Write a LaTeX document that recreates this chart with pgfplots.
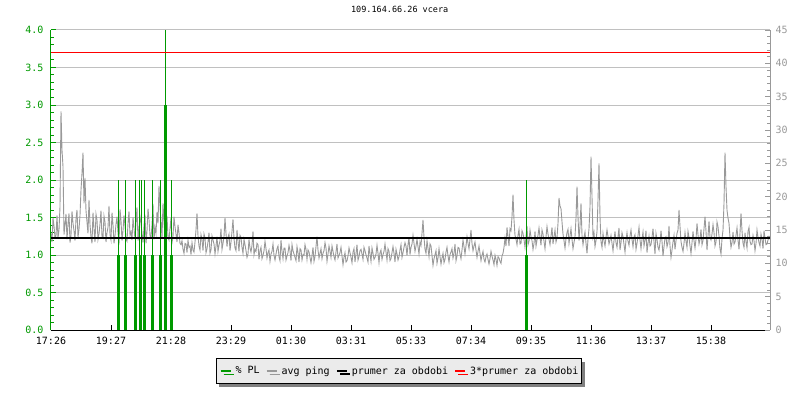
\documentclass[border=0pt]{standalone}
\usepackage{fontspec}
\setmainfont{DejaVu Sans Mono}
\usepackage{pgfplots}
\pgfplotsset{compat=1.18}
\usetikzlibrary{shadows}

\definecolor{plgreen}{RGB}{0,153,0}
\definecolor{pinggrey}{RGB}{153,153,153}
\definecolor{gridgrey}{RGB}{192,192,192}
\definecolor{leggrey}{RGB}{235,235,235}

\pgfplotsset{
  base/.style={
    at={(51pt,70pt)}, anchor=south west,
    width=719pt, height=300pt, scale only axis,
    xmin=0, xmax=719,
    /pgf/number format/assume math mode=true,
    tick align=inside,
    major tick length=5pt, minor tick length=3pt,
    ticklabel style={font=\fontsize{10}{12}\selectfont},
  },
}

\begin{document}
\begin{tikzpicture}
\useasboundingbox (0,0) rectangle (800pt,400pt);

% left axis: packet loss, grid, time axis
\begin{axis}[base,
  ymin=0, ymax=4,
  axis x line*=bottom, axis y line*=left,
  axis line style={-},
  x axis line style={black, line width=1pt},
  y axis line style={plgreen, line width=1pt},
  ytick={0,0.5,...,4}, minor y tick num=4,
  ymajorgrids, grid style={gridgrey, line width=1pt},
  y tick style={plgreen, line width=1pt},
  x tick style={black, line width=1pt},
  yticklabel style={plgreen, xshift=-4pt, /pgf/number format/.cd, fixed, fixed zerofill, precision=1},
  xticklabel style={yshift=-4pt},
  xtick={0,60,120,180,240,300,360,420,480,540,600,660},
  xticklabels={17:26,19:27,21:28,23:29,01:30,03:31,05:33,07:34,09:35,11:36,13:37,15:38},
  title={109.164.66.26 vcera},
  title style={font=\fontsize{8.5}{10}\selectfont, at={(0.485,1)}, anchor=south, yshift=8pt},
]
\end{axis}

% right axis: avg ping (ms)
\begin{axis}[base,
  ymin=0, ymax=45,
  axis y line*=right, axis x line=none,
  axis line style={-},
  y axis line style={pinggrey, line width=1pt},
  ytick={0,5,...,45}, minor y tick num=4,
  y tick style={pinggrey, line width=1pt},
  yticklabel style={pinggrey, xshift=2pt},
]
\addplot[pinggrey, line width=0.9pt] coordinates {
(0,14.5) (1,13.2) (2,16.8) (3,15.6) (4,13.9) (5,14.1) (6,17.2) (7,13.8) (8,15.0) (9,18.5)
(10,32.8) (11,27.0) (12,24.5) (13,14.3) (14,15.8) (15,17.4) (16,13.6) (17,15.9) (18,17.5) (19,13.1)
(20,14.2) (21,17.8) (22,16.0) (23,14.9) (24,13.4) (25,16.7) (26,18.0) (27,13.9) (28,15.1) (29,17.2)
(30,21.0) (31,23.5) (32,26.6) (33,19.0) (34,22.8) (35,17.9) (36,16.2) (37,14.5) (38,19.5) (39,15.8)
(40,14.0) (41,13.0) (42,17.6) (43,15.2) (44,13.2) (45,17.4) (46,16.5) (47,13.6) (48,14.4) (49,15.9)
(50,17.9) (51,14.0) (52,13.8) (53,17.1) (54,16.2) (55,13.2) (56,14.6) (57,15.4) (58,18.6) (59,14.3)
(60,13.5) (61,17.6) (62,15.8) (63,13.0) (64,14.1) (65,15.9) (66,17.0) (67,14.6) (68,12.8) (69,18.1)
(70,16.4) (71,13.4) (72,14.9) (73,17.2) (74,15.6) (75,13.6) (76,13.3) (77,16.0) (78,17.8) (79,14.2)
(80,14.7) (81,13.5) (82,16.9) (83,15.3) (84,13.6) (85,16.1) (86,18.4) (87,13.4) (88,15.2) (89,17.0)
(90,16.0) (91,14.5) (92,13.1) (93,15.6) (94,17.3) (95,13.0) (96,14.8) (97,18.2) (98,16.6) (99,14.1)
(100,13.9) (101,15.7) (102,18.9) (103,13.6) (104,15.4) (105,14.5) (106,17.7) (107,16.0) (108,21.6) (109,18.4)
(110,16.3) (111,13.8) (112,19.0) (113,16.2) (114,14.2) (115,15.5) (116,17.1) (117,13.9) (118,13.5) (119,15.2)
(120,16.8) (121,13.1) (122,14.0) (123,17.0) (124,15.5) (125,14.4) (126,13.2) (127,15.8) (128,14.6) (129,13.0)
(130,12.8) (131,13.4) (132,12.1) (133,11.5) (134,13.0) (135,12.9) (136,11.6) (137,13.5) (138,12.4) (139,12.6)
(140,11.3) (141,13.1) (142,12.0) (143,11.7) (144,13.2) (145,15.0) (146,17.5) (147,14.1) (148,12.6) (149,12.0)
(150,14.3) (151,13.6) (152,11.9) (153,14.4) (154,13.8) (155,11.6) (156,12.2) (157,13.2) (158,14.6) (159,11.5)
(160,12.0) (161,14.1) (162,13.5) (163,12.9) (164,11.4) (165,12.6) (166,14.0) (167,11.8) (168,12.7) (169,13.4)
(170,15.2) (171,12.1) (172,13.0) (173,14.0) (174,16.8) (175,14.5) (176,12.5) (177,13.9) (178,14.4) (179,11.9)
(180,13.2) (181,14.8) (182,16.6) (183,13.7) (184,12.3) (185,11.9) (186,15.0) (187,13.3) (188,11.8) (189,14.2)
(190,13.9) (191,12.4) (192,11.5) (193,13.6) (194,12.8) (195,11.9) (196,10.9) (197,11.4) (198,13.6) (199,12.3)
(200,11.7) (201,12.7) (202,14.8) (203,11.3) (204,12.1) (205,11.8) (206,13.0) (207,12.8) (208,10.6) (209,11.9)
(210,12.4) (211,10.7) (212,11.2) (213,11.9) (214,13.3) (215,12.2) (216,10.8) (217,11.6) (218,12.0) (219,10.3)
(220,11.4) (221,11.8) (222,12.9) (223,11.2) (224,10.5) (225,11.4) (226,12.2) (227,12.6) (228,11.0) (229,10.4)
(230,13.5) (231,11.8) (232,10.7) (233,12.3) (234,12.3) (235,10.5) (236,11.1) (237,11.6) (238,12.7) (239,11.9)
(240,10.4) (241,12.8) (242,11.9) (243,11.4) (244,10.9) (245,10.4) (246,12.5) (247,11.6) (248,10.2) (249,12.2)
(250,12.0) (251,10.5) (252,11.3) (253,11.2) (254,12.8) (255,12.1) (256,10.6) (257,12.0) (258,11.7) (259,10.9)
(260,10.1) (261,11.1) (262,12.4) (263,10.3) (264,11.0) (265,12.5) (266,14.0) (267,12.0) (268,10.8) (269,11.5)
(270,12.2) (271,10.7) (272,11.5) (273,11.9) (274,13.1) (275,12.3) (276,10.3) (277,11.4) (278,12.6) (279,11.8)
(280,10.9) (281,12.6) (282,11.8) (283,11.0) (284,10.5) (285,11.7) (286,12.9) (287,10.8) (288,11.2) (289,11.6)
(290,12.4) (291,11.1) (292,9.8) (293,10.9) (294,11.6) (295,10.2) (296,10.4) (297,11.1) (298,12.3) (299,11.6)
(300,10.9) (301,10.1) (302,11.7) (303,12.2) (304,10.2) (305,11.4) (306,12.8) (307,10.5) (308,11.0) (309,11.9)
(310,12.1) (311,11.4) (312,10.6) (313,12.4) (314,11.9) (315,11.3) (316,10.8) (317,10.2) (318,12.6) (319,11.4)
(320,10.3) (321,12.3) (322,11.5) (323,10.6) (324,10.9) (325,11.4) (326,12.7) (327,11.5) (328,10.1) (329,11.6)
(330,12.0) (331,10.6) (332,11.3) (333,11.8) (334,12.9) (335,11.7) (336,10.5) (337,12.2) (338,11.8) (339,10.4)
(340,10.7) (341,11.6) (342,12.5) (343,11.5) (344,10.2) (345,12.1) (346,11.4) (347,10.5) (348,11.0) (349,12.0)
(350,12.8) (351,10.9) (352,11.6) (353,12.4) (354,13.1) (355,12.6) (356,11.2) (357,12.8) (358,13.9) (359,11.3)
(360,12.4) (361,12.9) (362,14.2) (363,13.0) (364,11.8) (365,12.6) (366,13.6) (367,12.5) (368,11.4) (369,13.2)
(370,12.7) (371,14.5) (372,16.5) (373,13.9) (374,12.1) (375,11.5) (376,13.4) (377,12.2) (378,11.0) (379,12.9)
(380,12.6) (381,11.2) (382,9.7) (383,10.7) (384,11.3) (385,11.9) (386,10.0) (387,10.8) (388,12.2) (389,11.0)
(390,9.9) (391,10.8) (392,11.5) (393,10.1) (394,10.6) (395,11.7) (396,12.4) (397,11.1) (398,10.2) (399,11.3)
(400,11.7) (401,12.2) (402,10.8) (403,11.5) (404,12.9) (405,10.4) (406,11.1) (407,12.4) (408,12.3) (409,11.4)
(410,10.7) (411,12.0) (412,13.5) (413,12.5) (414,11.4) (415,12.6) (416,14.0) (417,13.0) (418,12.2) (419,13.6)
(420,15.0) (421,13.0) (422,11.9) (423,12.6) (424,13.2) (425,12.0) (426,10.9) (427,11.8) (428,12.6) (429,11.5)
(430,10.4) (431,11.2) (432,11.8) (433,10.6) (434,10.2) (435,11.0) (436,11.4) (437,10.6) (438,9.9) (439,10.7)
(440,11.8) (441,11.1) (442,10.5) (443,9.8) (444,11.2) (445,10.6) (446,9.7) (447,11.0) (448,10.8) (449,10.3)
(450,10.0) (451,11.1) (452,11.5) (453,12.4) (454,13.8) (455,12.6) (456,15.4) (457,14.0) (458,12.6) (459,15.2)
(460,14.9) (461,17.0) (462,20.3) (463,16.5) (464,14.2) (465,13.6) (466,12.8) (467,14.2) (468,15.1) (469,12.9)
(470,13.0) (471,14.9) (472,14.5) (473,13.6) (474,12.4) (475,14.0) (476,15.6) (477,12.8) (478,13.3) (479,15.0)
(480,14.0) (481,13.4) (482,12.1) (483,13.0) (484,14.8) (485,12.6) (486,13.5) (487,14.2) (488,15.3) (489,13.9)
(490,12.7) (491,15.0) (492,14.4) (493,13.3) (494,12.2) (495,14.0) (496,15.5) (497,14.4) (498,13.6) (499,12.8)
(500,14.1) (501,15.4) (502,12.9) (503,14.0) (504,15.0) (505,13.2) (506,13.8) (507,16.0) (508,19.8) (509,18.6)
(510,18.2) (511,16.2) (512,14.4) (513,13.4) (514,12.3) (515,13.7) (516,14.6) (517,15.1) (518,13.0) (519,14.1)
(520,15.2) (521,13.6) (522,12.2) (523,13.1) (524,14.0) (525,16.8) (526,21.5) (527,17.0) (528,13.4) (529,15.6)
(530,19.0) (531,14.2) (532,12.8) (533,13.9) (534,14.7) (535,13.0) (536,11.5) (537,13.6) (538,15.2) (539,18.5)
(540,26.0) (541,20.0) (542,13.9) (543,14.6) (544,12.5) (545,13.4) (546,14.8) (547,19.5) (548,25.0) (549,17.0)
(550,13.2) (551,12.4) (552,14.5) (553,13.4) (554,12.6) (555,13.9) (556,15.0) (557,14.0) (558,12.9) (559,13.5)
(560,14.2) (561,13.0) (562,11.9) (563,13.4) (564,14.8) (565,13.1) (566,12.4) (567,14.0) (568,15.3) (569,12.0)
(570,13.1) (571,14.6) (572,14.0) (573,12.8) (574,11.7) (575,13.5) (576,14.6) (577,13.3) (578,12.7) (579,14.1)
(580,15.0) (581,13.6) (582,12.5) (583,13.9) (584,14.3) (585,12.1) (586,13.0) (587,14.2) (588,15.4) (589,13.5)
(590,12.2) (591,13.6) (592,14.7) (593,12.6) (594,13.4) (595,14.9) (596,11.6) (597,13.0) (598,14.1) (599,12.6)
(600,12.8) (601,13.9) (602,15.2) (603,13.2) (604,11.4) (605,14.5) (606,13.6) (607,12.4) (608,12.0) (609,13.1)
(610,14.9) (611,13.3) (612,11.1) (613,12.5) (614,13.8) (615,14.0) (616,12.5) (617,13.1) (618,15.6) (619,12.6)
(620,10.9) (621,12.0) (622,13.2) (623,14.2) (624,12.1) (625,13.4) (626,14.5) (627,15.0) (628,18.0) (629,15.5)
(630,13.3) (631,12.4) (632,11.8) (633,13.0) (634,14.6) (635,13.3) (636,12.4) (637,14.8) (638,13.9) (639,12.6)
(640,11.5) (641,13.1) (642,14.8) (643,13.4) (644,12.3) (645,13.6) (646,16.0) (647,14.3) (648,12.9) (649,13.6)
(650,15.1) (651,12.8) (652,13.4) (653,15.2) (654,17.0) (655,14.8) (656,12.0) (657,14.1) (658,16.3) (659,13.9)
(660,13.5) (661,14.4) (662,15.8) (663,14.6) (664,12.6) (665,13.2) (666,16.2) (667,15.5) (668,14.1) (669,12.2)
(670,11.4) (671,13.7) (672,15.0) (673,19.0) (674,26.6) (675,21.5) (676,18.0) (677,16.8) (678,16.0) (679,13.9)
(680,12.4) (681,13.1) (682,14.7) (683,12.9) (684,13.2) (685,14.2) (686,15.3) (687,13.5) (688,12.1) (689,14.6)
(690,17.5) (691,14.9) (692,13.0) (693,12.4) (694,14.6) (695,13.2) (696,12.3) (697,14.8) (698,15.4) (699,13.3)
(700,12.8) (701,12.9) (702,14.2) (703,13.4) (704,11.9) (705,13.0) (706,15.0) (707,13.9) (708,13.1) (709,12.6)
(710,14.4) (711,13.6) (712,12.2) (713,14.9) (714,13.8) (715,12.8) (716,12.9) (717,13.5) (718,14.0) (719,13.6)
};
\end{axis}

% packet loss (left scale)
\begin{axis}[base, ymin=0, ymax=4, hide axis]
\addplot[plgreen, line width=1.3pt, ycomb] coordinates {
(67.5,2) (74.5,2) (84.5,2) (88.5,2) (90.5,2) (93.5,2) (101.5,2) (109.5,2) (114.5,4) (120.5,2) (475.5,2)
};
\addplot[plgreen, line width=2.5pt, ycomb] coordinates {
(67.5,1) (74.5,1) (84.5,1) (89.5,1) (93.5,1) (101.5,1) (109.5,1) (114.5,3) (120.5,1) (475.5,1)
};
\end{axis}

% average lines (right scale) + legend
\begin{axis}[base, ymin=0, ymax=45, hide axis,
  legend columns=4,
  legend image code/.code={\draw[#1, line width=2pt] (0pt,0pt) -- (10pt,0pt);},
  legend style={at={(0.484,-0.137)}, anchor=center,
    draw=black, line width=1pt, fill=leggrey,
    font=\fontsize{10}{12}\selectfont,
    inner xsep=3.5pt, inner ysep=8pt,
    drop shadow={shadow xshift=3pt, shadow yshift=-3pt, fill=black!50, opacity=1},
    /tikz/every odd column/.append style={column sep=4pt},
    /tikz/every even column/.append style={column sep=6pt},
    nodes={inner sep=0pt}},
]
\addlegendimage{plgreen}
\addlegendentry{\% PL}
\addlegendimage{pinggrey}
\addlegendentry{avg ping}
\addplot[black, line width=2pt] coordinates {(0,13.87) (719,13.87)};
\addlegendentry{prumer za obdobi}
\addplot[red, line width=1pt] coordinates {(0,41.61) (719,41.61)};
\addlegendentry{3*prumer za obdobi}
\end{axis}
\end{tikzpicture}
\end{document}
